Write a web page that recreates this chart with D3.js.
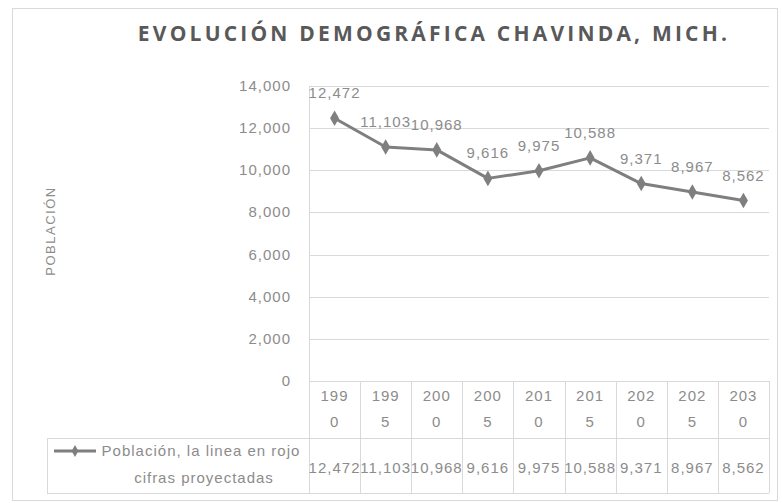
<!DOCTYPE html>
<html>
<head>
  <meta charset="utf-8">
  <script src="https://d3js.org/d3.v7.min.js"></script>
  <style>
    body { margin: 0; background: #fff; }
    text { font-family: 'Liberation Sans', 'DejaVu Sans', sans-serif; }
    .lbl { font-size: 15px; letter-spacing: 1px; fill: #8c8c8c; }
  </style>
</head>
<body>
  <div id="chart"></div>
  <script>
    // values
    const years = ['1990', '1995', '2000', '2005', '2010', '2015', '2020', '2025', '2030'];
    const population = [12472, 11103, 10968, 9616, 9975, 10588, 9371, 8967, 8562];
    const yTicks = [0, 2000, 4000, 6000, 8000, 10000, 12000, 14000];
    const seriesName = ['Población, la linea en rojo', 'cifras proyectadas'];

    const W = 782, H = 503;
    const gray = '#7f7f7f', grid = '#d9d9d9';

    const svg = d3.select('#chart').append('svg')
      .attr('width', W).attr('height', H);

    // outer chart frame
    svg.append('rect')
      .attr('x', 12.5).attr('y', 8.5)
      .attr('width', 765).attr('height', 492)
      .attr('fill', 'none').attr('stroke', grid);

    svg.append('text')
      .attr('x', 434).attr('y', 41)
      .attr('text-anchor', 'middle')
      .style('font-family', "'Open Sans', sans-serif")
      .style('font-weight', 'bold')
      .style('font-size', '21px')
      .style('letter-spacing', '3.2px')
      .attr('fill', '#595959')
      .text('EVOLUCIÓN DEMOGRÁFICA CHAVINDA, MICH.');

    const x = d3.scaleBand().domain(years).range([309, 769]);
    const y = d3.scaleLinear().domain([0, 14000]).range([381, 86]);

    // gridlines
    svg.append('g').selectAll('line')
      .data(yTicks.filter(d => d > 0))
      .enter().append('line')
      .attr('x1', 309).attr('x2', 769)
      .attr('y1', d => Math.round(y(d)) + 0.5)
      .attr('y2', d => Math.round(y(d)) + 0.5)
      .attr('stroke', grid);

    // y axis labels
    svg.append('g').selectAll('text')
      .data(yTicks)
      .enter().append('text')
      .attr('class', 'lbl')
      .attr('x', 291)
      .attr('y', d => y(d) + 5)
      .attr('text-anchor', 'end')
      .text(d => d3.format(',')(d));

    svg.append('text')
      .attr('transform', 'translate(55,231) rotate(-90)')
      .attr('text-anchor', 'middle')
      .style('font-size', '13px')
      .style('letter-spacing', '1.5px')
      .attr('fill', '#8c8c8c')
      .text('POBLACIÓN');

    // data table
    const table = svg.append('g').attr('stroke', grid);
    table.append('line').attr('x1', 309.5).attr('x2', 309.5).attr('y1', 86).attr('y2', 493);
    table.append('line').attr('x1', 309).attr('x2', 769).attr('y1', 381.5).attr('y2', 381.5);
    table.append('line').attr('x1', 47).attr('x2', 769).attr('y1', 438.5).attr('y2', 438.5);
    table.append('line').attr('x1', 47).attr('x2', 769).attr('y1', 493.5).attr('y2', 493.5);
    table.append('line').attr('x1', 47.5).attr('x2', 47.5).attr('y1', 438).attr('y2', 493);
    table.selectAll('.sep')
      .data(years)
      .enter().append('line')
      .attr('class', 'sep')
      .attr('x1', d => Math.round(x(d) + x.bandwidth()) + 0.5)
      .attr('x2', d => Math.round(x(d) + x.bandwidth()) + 0.5)
      .attr('y1', 381).attr('y2', 493);

    const cat = svg.append('g').selectAll('g')
      .data(years)
      .enter().append('g');
    cat.append('text')
      .attr('class', 'lbl')
      .attr('x', d => x(d) + x.bandwidth() / 2)
      .attr('y', 401)
      .attr('text-anchor', 'middle')
      .text(d => d.slice(0, 3));
    cat.append('text')
      .attr('class', 'lbl')
      .attr('x', d => x(d) + x.bandwidth() / 2)
      .attr('y', 427)
      .attr('text-anchor', 'middle')
      .text(d => d.slice(3));

    svg.append('g').selectAll('text')
      .data(population)
      .enter().append('text')
      .attr('class', 'lbl')
      .attr('x', (d, i) => x(years[i]) + x.bandwidth() / 2)
      .attr('y', 473)
      .attr('text-anchor', 'middle')
      .text(d => d3.format(',')(d));

    // legend key in table
    svg.append('line')
      .attr('x1', 54).attr('x2', 96).attr('y1', 451).attr('y2', 451)
      .attr('stroke', gray).attr('stroke-width', 3);
    svg.append('path')
      .attr('d', d3.symbol().type(d3.symbolDiamond).size(40))
      .attr('transform', 'translate(75,451)')
      .attr('fill', gray);
    svg.append('g').selectAll('text')
      .data(seriesName)
      .enter().append('text')
      .attr('class', 'lbl')
      .attr('x', (d, i) => i === 0 ? 201 : 204)
      .attr('y', (d, i) => 456 + i * 27)
      .attr('text-anchor', 'middle')
      .text(d => d);

    // series line
    const line = d3.line()
      .x((d, i) => x(years[i]) + x.bandwidth() / 2)
      .y(d => y(d));

    svg.append('path')
      .datum(population)
      .attr('d', line)
      .attr('fill', 'none')
      .attr('stroke', gray)
      .attr('stroke-width', 3)
      .attr('stroke-linejoin', 'round');

    svg.append('g').selectAll('path')
      .data(population)
      .enter().append('path')
      .attr('d', d3.symbol().type(d3.symbolDiamond).size(70))
      .attr('transform', (d, i) => `translate(${x(years[i]) + x.bandwidth() / 2},${y(d)})`)
      .attr('fill', gray);

    svg.append('g').selectAll('text')
      .data(population)
      .enter().append('text')
      .attr('class', 'lbl')
      .attr('x', (d, i) => x(years[i]) + x.bandwidth() / 2)
      .attr('y', d => y(d) - 20)
      .attr('text-anchor', 'middle')
      .text(d => d3.format(',')(d));
  </script>
</body>
</html>
